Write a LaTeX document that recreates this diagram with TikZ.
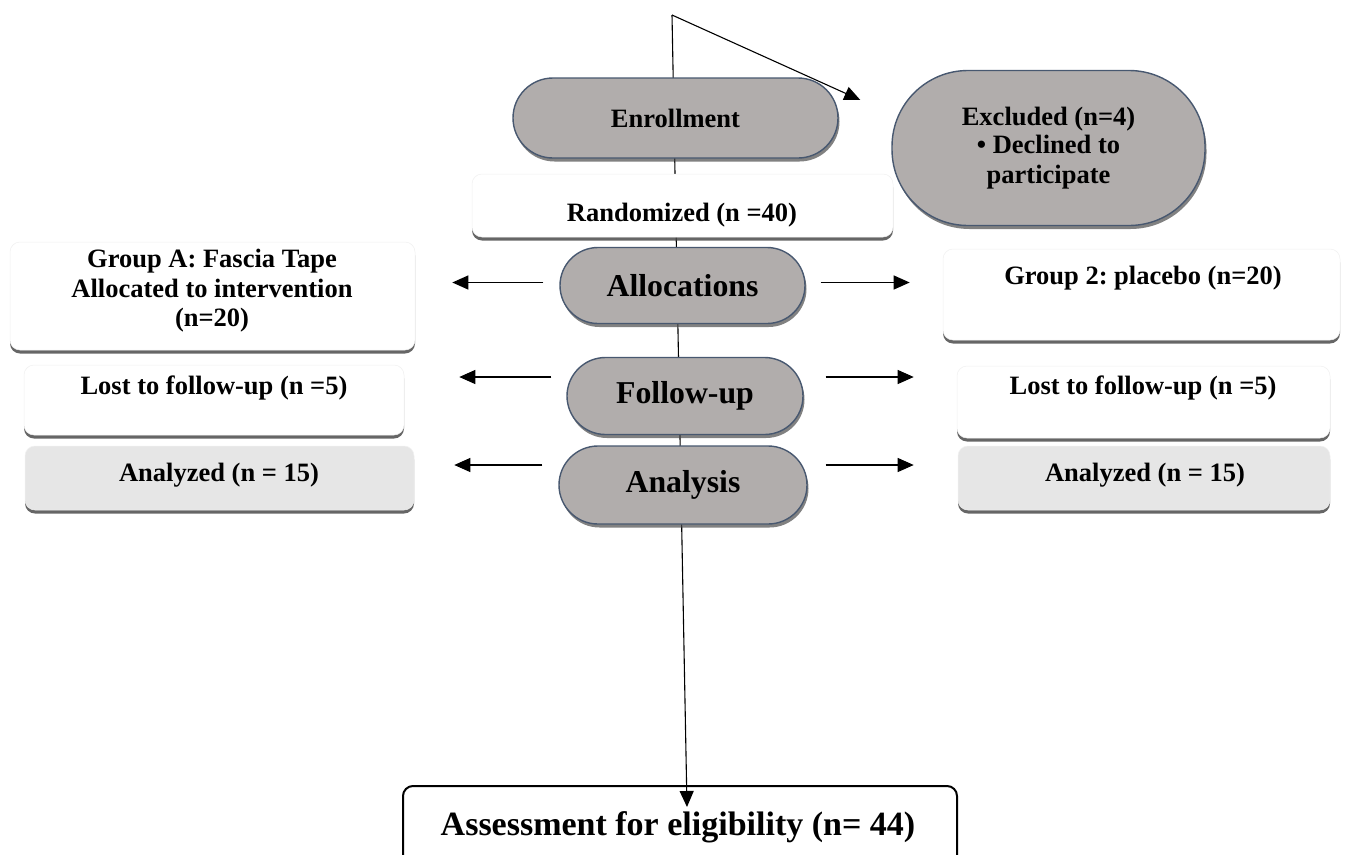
\documentclass[tikz,border=0pt]{standalone}
\usepackage{fontspec}
\setmainfont{Liberation Serif}
\usetikzlibrary{arrows.meta,shadows,shapes.misc,calc}
\definecolor{pillfill}{RGB}{177,173,172}
\definecolor{pilledge}{RGB}{72,88,112}
\definecolor{lightbox}{RGB}{230,230,230}
\frenchspacing
\tikzset{
  pill/.style={rounded rectangle, draw=pilledge, line width=1.4pt, fill=pillfill, inner sep=0pt,
    drop shadow={shadow xshift=1.5pt, shadow yshift=-3.5pt, fill=black!70, opacity=0.7}},
  wbox/.style={rectangle, rounded corners=10pt, fill=white, draw=black!6, line width=0.5pt, inner sep=0pt,
    drop shadow={shadow xshift=0pt, shadow yshift=-3.5pt, fill=black!70, opacity=0.85}},
  abox/.style={rectangle, rounded corners=10pt, fill=white, draw=black, line width=2pt, inner sep=0pt},
  txt/.style={font=\fontsize{26.5}{29.5}\selectfont\bfseries, align=center, inner sep=0pt},
  bigtxt/.style={font=\fontsize{31.8}{34}\selectfont\bfseries},
  arr/.style={-{Triangle[length=16pt,width=14pt]}, line width=1.1pt},
}
\begin{document}
\begin{tikzpicture}[x=1pt,y=-1pt]
\clip (0,0) rectangle (1346,854);
\fill[white] (0,0) rectangle (1346,854);
% bottom box
\node[abox, minimum width=554pt, minimum height=140pt] (assess) at (680,856) {};
\node[txt, font=\fontsize{34}{36}\selectfont\bfseries] (assesst) at (678,827) {Assessment for eligibility (n= 44)};
\coordinate (top) at (672,15);
\draw[arr] (top) -- ([xshift=7pt,yshift=-22pt]assess.north);
% excluded
\node[rectangle, rounded corners=76pt, draw=pilledge, line width=1.4pt, fill=pillfill, inner sep=0pt,
  minimum width=313pt, minimum height=155pt, txt,
  drop shadow={shadow xshift=1.5pt, shadow yshift=-3.5pt, fill=black!70, opacity=0.7}]
  (excl) at (1048.5,148) {Excluded (n=4)\\[-1pt]\textbullet\ Declined to\\participate};
\draw[arr] (top) -- ([xshift=-31pt,yshift=48pt]excl.west);
% enrollment / randomized
\node[wbox, minimum width=421pt, minimum height=63pt] (rand) at (682.5,205.5) {};
\node[txt] (randt) at (682,215) {Randomized (n =40)};
\node[pill, minimum width=325pt, minimum height=80pt, txt] (enrol) at (675.5,118) {Enrollment};
% left column
\node[wbox, minimum width=405pt, minimum height=108pt] (ga) at (212.5,296) {};
\node[txt] (gat) at (212,291) {Group A: Fascia Tape\\Allocated to intervention\\(n=20)};
\node[wbox, minimum width=380pt, minimum height=70pt] (losta) at (214,400) {};
\node[txt] (lostat) at (214,388) {Lost to follow-up (n =5)};
\node[wbox, fill=lightbox, minimum width=389pt, minimum height=64pt] (ana) at (219.5,478) {};
\node[txt] (anat) at (219,475) {Analyzed (n = 15)};
% right column
\node[wbox, minimum width=397pt, minimum height=91pt] (gb) at (1141.5,294.5) {};
\node[txt] (gbt) at (1143,278) {Group 2: placebo (n=20)};
\node[wbox, minimum width=373pt, minimum height=72pt] (lostb) at (1143.5,402) {};
\node[txt] (lostbt) at (1143,388) {Lost to follow-up (n =5)};
\node[wbox, fill=lightbox, minimum width=372pt, minimum height=64pt] (anb) at (1144,478) {};
\node[txt] (anbt) at (1145,475) {Analyzed (n = 15)};
% central pills
\node[pill, minimum width=245pt, minimum height=76pt, bigtxt] (alloc) at (682.5,285.5) {Allocations};
\node[pill, minimum width=236pt, minimum height=77pt, bigtxt] (follow) at (685,396) {Follow-up};
\node[pill, minimum width=248pt, minimum height=78pt, bigtxt] (anal) at (683,485) {Analysis};
% side arrows
\draw[arr] ($(alloc.west)+(-16,-3)$) -- ++(-91,0);
\draw[arr] ($(follow.west)+(-15,-19)$) -- ++(-92,0);
\draw[arr] ($(anal.west)+(-16,-20)$) -- ++(-88,0);
\draw[arr] ($(alloc.east)+(15,-3)$) -- ++(89,0);
\draw[arr] ($(follow.east)+(22,-19)$) -- ++(88,0);
\draw[arr] ($(anal.east)+(18,-20)$) -- ++(88,0);
\end{tikzpicture}
\end{document}
